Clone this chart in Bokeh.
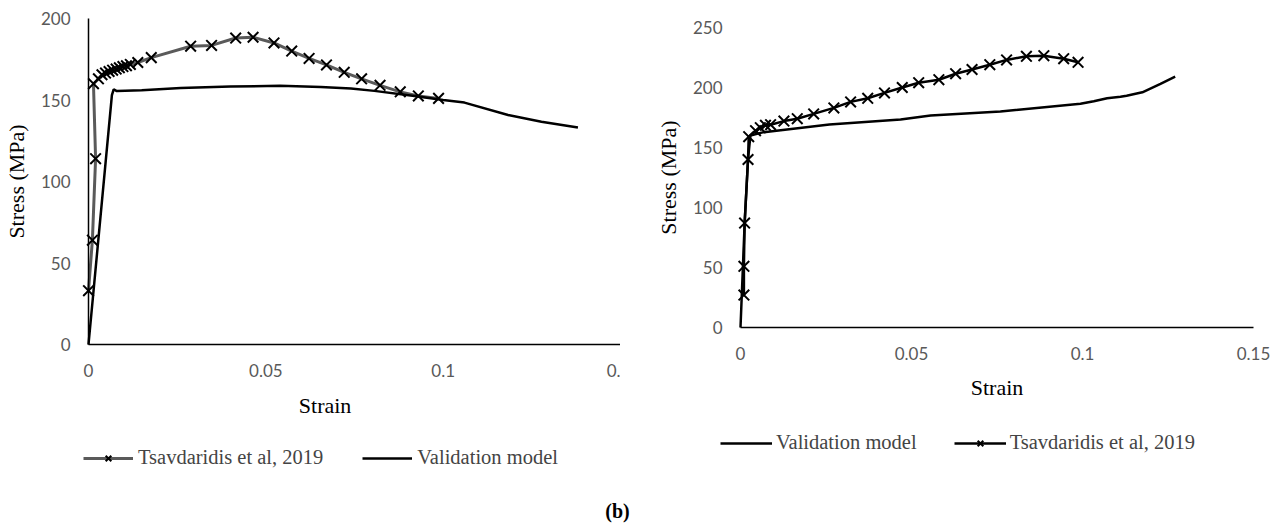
from bokeh.plotting import figure
from bokeh.layouts import row, column
from bokeh.models import FixedTicker, Legend, LegendItem, Label
from bokeh.embed import file_html
from bokeh.resources import INLINE

# ---------------- data ----------------
# left panel
left_tsav_strain = [0.0000, 0.0011, 0.0020, 0.0014, 0.0028, 0.0038, 0.0048, 0.0058, 0.0068,
                    0.0078, 0.0087, 0.0097, 0.0107, 0.0118, 0.0139, 0.0177, 0.0288, 0.0347,
                    0.0415, 0.0464, 0.0523, 0.0573, 0.0622, 0.0671, 0.0721, 0.0770, 0.0822,
                    0.0879, 0.0930, 0.0987]
left_tsav_stress = [33, 64, 114, 160, 163, 165.5, 166.5, 167.5, 168.3, 169, 169.8, 170.5,
                    171, 171.8, 173, 176, 183, 183.5, 188, 188.5, 185, 180, 175.5, 171.5,
                    167, 163, 159, 155, 152.5, 151]
left_val_strain = [0.0, 0.0066, 0.0071, 0.0080, 0.0150, 0.0260, 0.0400, 0.0540, 0.0655,
                   0.0740, 0.0806, 0.0919, 0.1000, 0.1060, 0.1183, 0.1277, 0.1380]
left_val_stress = [0, 153, 156.5, 155.5, 156, 157.3, 158.3, 158.7, 158, 157, 155.6, 152.5,
                   150, 148.4, 140.8, 136.7, 133.1]

# right panel
right_tsav_strain = [0.0010, 0.0010, 0.0012, 0.0022, 0.0024, 0.0044, 0.0058, 0.0073, 0.0088,
                     0.0127, 0.0166, 0.0214, 0.0273, 0.0322, 0.0372, 0.0421, 0.0473, 0.0521,
                     0.0580, 0.0629, 0.0677, 0.0729, 0.0778, 0.0836, 0.0887, 0.0945, 0.0987]
right_tsav_stress = [27, 51, 87, 140, 159, 164, 166.5, 168.5, 169, 172, 174, 178, 183, 188,
                     191, 195.5, 200, 204, 206.5, 211.5, 215, 219, 223, 226, 226.5, 224, 221]
right_val_strain = [0.0, 0.0012, 0.0022, 0.0029, 0.0068, 0.0260, 0.0468, 0.0556, 0.0760,
                    0.0994, 0.1033, 0.1072, 0.1111, 0.1129, 0.1175, 0.1228, 0.1271]
right_val_stress = [0, 86, 140, 160, 162.8, 169.2, 173.3, 176.7, 180, 186.4, 188.6, 191.1,
                    192.3, 193.2, 196, 203, 209]

x_ticks = [0, 0.05, 0.1, 0.15]
left_x_tick_labels = ["0", "0.05", "0.1", "0."]   # last label is cut off at the panel edge in the original
right_x_tick_labels = ["0", "0.05", "0.1", "0.15"]
left_y_ticks = [0, 50, 100, 150, 200]
right_y_ticks = [0, 50, 100, 150, 200, 250]

TICK_FONT = "Lato"
SERIF = "Liberation Serif"
GRAY = "#595959"
H = 480


def style(p, yticks, xlabels, ymax, show_yline):
    p.grid.visible = False
    p.outline_line_color = None
    p.xaxis.ticker = FixedTicker(ticks=x_ticks)
    p.xaxis.major_label_overrides = dict(zip(x_ticks, xlabels))
    p.xaxis.fixed_location = 0
    p.xaxis.bounds = (0, 0.15)
    p.yaxis.ticker = FixedTicker(ticks=yticks)
    p.yaxis.fixed_location = 0
    p.yaxis.bounds = (0, ymax)
    for ax in (p.xaxis[0], p.yaxis[0]):
        ax.major_tick_line_color = None
        ax.minor_tick_line_color = None
        ax.major_label_text_font = TICK_FONT
        ax.major_label_text_font_size = "17px"
        ax.major_label_text_color = GRAY
        ax.axis_line_color = "black"
        ax.axis_line_width = 1.5
        ax.axis_label_text_font = SERIF
        ax.axis_label_text_font_size = "22px"
        ax.axis_label_text_font_style = "normal"
        ax.axis_label_text_color = "black"
    p.xaxis.major_label_standoff = 13
    p.xaxis.axis_label_standoff = 12
    p.yaxis.major_label_standoff = 12
    p.yaxis.axis_label_standoff = 9
    if not show_yline:
        p.yaxis.axis_line_color = None
    p.yaxis.axis_label = "Stress (MPa)"


# ---------------- left panel (figure 620 x 480, frame fills it) ----------------
LW = 620
LX0, LX15 = 88, 620          # pixel of strain 0 and 0.15
LY0, LY200 = 344, 18         # pixel (from top) of stress 0 and 200
lxs = (LX15 - LX0) / 0.15
lys = (LY0 - LY200) / 200
p1 = figure(width=LW, height=H,
            x_range=(-LX0 / lxs, 0.15 + (LW - LX15) / lxs),
            y_range=(-(H - LY0) / lys, 200 + LY200 / lys),
            output_backend="svg", toolbar_location=None, min_border=0)
style(p1, left_y_ticks, left_x_tick_labels, 200, True)

l1 = p1.line(left_tsav_strain, left_tsav_stress, line_color="#5a5a5a", line_width=3)
s1 = p1.scatter(left_tsav_strain, left_tsav_stress, marker="x", size=15,
                line_color="black", line_width=2)
l2 = p1.line(left_val_strain, left_val_stress, line_color="black", line_width=2.5)

p1.add_layout(Label(x=0.0667, y=-60.5 / lys, text="Strain", text_align="center",
                    text_baseline="middle", text_font=SERIF, text_font_size="22px",
                    text_color="black"))

leg1 = Legend(items=[LegendItem(label="Tsavdaridis et al, 2019", renderers=[l1, s1]),
                     LegendItem(label="Validation model", renderers=[l2])],
              location=(83, 11), orientation="horizontal", glyph_width=50,
              glyph_height=20, label_standoff=5, spacing=39, padding=0, margin=0,
              border_line_color=None, background_fill_alpha=0,
              label_text_font=SERIF, label_text_font_size="20.5px")
p1.add_layout(leg1)

# ---------------- right panel (figure 654 x 480, frame fills it) ----------------
RW = 654
RX0, RX15 = 120, 633
RY0, RY250 = 327, 27
rxs = (RX15 - RX0) / 0.15
rys = (RY0 - RY250) / 250
p2 = figure(width=RW, height=H,
            x_range=(-RX0 / rxs, 0.15 + (RW - RX15) / rxs),
            y_range=(-(H - RY0) / rys, 250 + RY250 / rys),
            output_backend="svg", toolbar_location=None, min_border=0)
style(p2, right_y_ticks, right_x_tick_labels, 250, False)
p2.xaxis.axis_label = "Strain"

r1 = p2.line(right_val_strain, right_val_stress, line_color="black", line_width=2.5)
r2 = p2.line(right_tsav_strain, right_tsav_stress, line_color="black", line_width=2.5)
r3 = p2.scatter(right_tsav_strain, right_tsav_stress, marker="x", size=15,
                line_color="black", line_width=2)

leg2 = Legend(items=[LegendItem(label="Validation model", renderers=[r1]),
                     LegendItem(label="Tsavdaridis et al, 2019", renderers=[r2, r3])],
              location=(100, 26), orientation="horizontal", glyph_width=52,
              glyph_height=20, label_standoff=4, spacing=37, padding=0, margin=0,
              border_line_color=None, background_fill_alpha=0,
              label_text_font=SERIF, label_text_font_size="20.5px")
p2.add_layout(leg2)

# ---------------- caption ----------------
p3 = figure(width=1274, height=45, x_range=(0, 1274), y_range=(0, 45),
            output_backend="svg", toolbar_location=None, min_border=0)
p3.axis.visible = False
p3.grid.visible = False
p3.outline_line_color = None
p3.add_layout(Label(x=617, y=15, text="(b)", text_align="center", text_baseline="middle",
                    text_font=SERIF, text_font_size="20px", text_font_style="bold",
                    text_color="black"))

layout = column(row(p1, p2), p3)
open("out.html", "w").write(file_html(layout, INLINE))
